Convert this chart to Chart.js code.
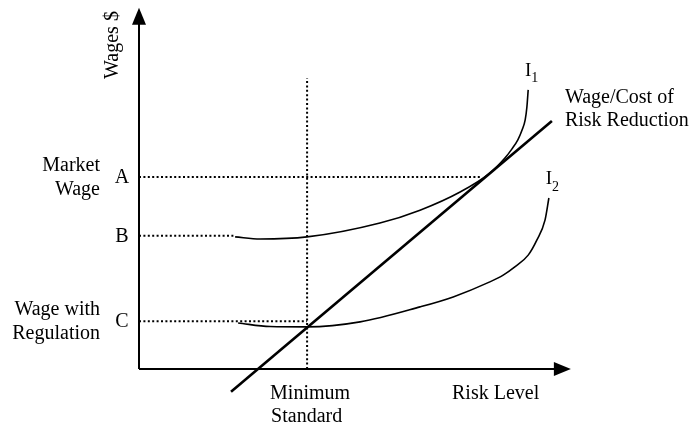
<!DOCTYPE html>
<html>
<head>
<meta charset="utf-8">
<script src="https://cdn.jsdelivr.net/npm/chart.js@4/dist/chart.umd.min.js"></script>
<style>
	body { margin: 0; background: #fff; }
	canvas { display: block; }
</style>
</head>
<body>
<canvas id="chartRisk" width="691" height="426"></canvas>
<script>
// wage levels on the vertical axis
var wageLevels = [53.8, 37.3, 13.4];
var wageTicks = ['A', 'B', 'C'];
var wageNames = [['Market', 'Wage'], [], ['Wage with', 'Regulation']];
var guideEnds = [79.1, 22.3, 39.0];

// risk level of the minimum standard
var minStandard = 39.0;
var minStandardTop = 81.5;

// indifference curve I1
var i1X = [22.3, 28.1, 39.0, 55.9, 65.2, 74.5, 81.4, 84.9, 86.5, 87.9, 88.9, 89.6, 90.0, 90.3];
var i1Y = [37.0, 36.4, 37.0, 40.9, 44.5, 49.6, 54.9, 59.1, 61.6, 64.2, 67.0, 69.8, 73.4, 78.2];

// indifference curve I2
var i2X = [23.0, 30.4, 39.0, 51.3, 65.2, 72.9, 81.4, 84.5, 87.2, 90.3, 92.3, 94.2, 95.1];
var i2Y = [12.9, 11.9, 11.8, 13.2, 17.4, 20.2, 24.4, 26.3, 28.6, 31.9, 36.1, 41.7, 47.9];

// wage / cost of risk reduction line
var costX = [21.35, 95.8];
var costY = [-6.4, 69.5];

var FONT = '"Liberation Serif", "Times New Roman", serif';

function pts(xs, ys) {
	return xs.map((x, i) => ({ x: x, y: ys[i] }));
}

function lineSet(data, width, dash, smooth) {
	return {
		data: data,
		showLine: true,
		pointRadius: 0,
		borderColor: '#000',
		borderWidth: width,
		borderDash: dash || [],
		cubicInterpolationMode: smooth ? 'monotone' : 'default',
		tension: 0,
		clip: false
	};
}

var datasets = [];

// axes
datasets.push(lineSet([{ x: 0, y: 0 }, { x: 99, y: 0 }], 2));
datasets.push(lineSet([{ x: 0, y: 0 }, { x: 0, y: 100 }], 2));

// dotted guides
wageLevels.forEach((w, i) => {
	datasets.push(lineSet([{ x: 0, y: w }, { x: guideEnds[i], y: w }], 2, [2, 2.4]));
});
datasets.push(lineSet([{ x: minStandard, y: 0 }, { x: minStandard, y: minStandardTop }], 2, [2, 2.4]));

// curves
datasets.push(lineSet(pts(i1X, i1Y), 1.6, null, true));
datasets.push(lineSet(pts(i2X, i2Y), 1.6, null, true));
datasets.push(lineSet(pts(costX, costY), 2.6));

var textPlugin = {
	id: 'textPlugin',
	afterDatasetsDraw(chart) {
		let ctx = chart.ctx;
		let sx = chart.scales.x;
		let sy = chart.scales.y;
		let x0 = sx.getPixelForValue(0);
		let y0 = sy.getPixelForValue(0);

		ctx.save();
		ctx.fillStyle = '#000';

		// arrow heads
		let yTip = sy.getPixelForValue(101.2);
		ctx.beginPath();
		ctx.moveTo(x0, yTip);
		ctx.lineTo(x0 - 7, yTip + 17);
		ctx.lineTo(x0 + 7, yTip + 17);
		ctx.closePath();
		ctx.fill();

		let xTip = sx.getPixelForValue(100.2);
		ctx.beginPath();
		ctx.moveTo(xTip, y0);
		ctx.lineTo(xTip - 17, y0 - 7);
		ctx.lineTo(xTip - 17, y0 + 7);
		ctx.closePath();
		ctx.fill();

		ctx.font = '20px ' + FONT;
		ctx.textBaseline = 'middle';

		// wage ticks and names
		wageLevels.forEach((w, i) => {
			let py = sy.getPixelForValue(w);
			ctx.textAlign = 'center';
			ctx.fillText(wageTicks[i], x0 - 17, py + 1);
			let names = wageNames[i];
			ctx.textAlign = 'right';
			names.forEach((n, k) => {
				ctx.fillText(n, x0 - 39, py + 1 + (k - (names.length - 1) / 2) * 24);
			});
		});

		// axis titles
		ctx.save();
		ctx.translate(x0 - 26, 45);
		ctx.rotate(-Math.PI / 2);
		ctx.textAlign = 'center';
		ctx.fillText('Wages $', 0, 0);
		ctx.restore();

		ctx.textAlign = 'left';
		ctx.fillText('Risk Level', 452, y0 + 25);

		let ms = sx.getPixelForValue(minStandard);
		ctx.fillText('Minimum', ms - 37, y0 + 25);
		ctx.fillText('Standard', ms - 36, y0 + 48);

		// line label
		let cx = sx.getPixelForValue(costX[1]);
		let cy = sy.getPixelForValue(costY[1]);
		ctx.fillText('Wage/Cost of', cx + 13, cy - 23);
		ctx.fillText('Risk Reduction', cx + 13, cy);

		// curve labels
		[[i1X, i1Y, '1'], [i2X, i2Y, '2']].forEach(([xs, ys, sub]) => {
			let px = sx.getPixelForValue(xs[xs.length - 1]);
			let py = sy.getPixelForValue(ys[ys.length - 1]);
			ctx.font = '19px ' + FONT;
			ctx.textAlign = 'center';
			ctx.fillText('I', px, py - 19);
			ctx.font = '14px ' + FONT;
			ctx.textAlign = 'left';
			ctx.fillText(sub, px + 3, py - 11);
		});

		ctx.restore();
	}
};

new Chart(document.getElementById('chartRisk').getContext('2d'), {
	type: 'scatter',
	data: { datasets: datasets },
	options: {
		responsive: false,
		animation: false,
		layout: {
			padding: { left: 139, right: 121, top: 12, bottom: 57 }
		},
		plugins: {
			legend: { display: false },
			tooltip: { enabled: false }
		},
		scales: {
			x: { display: false, min: 0, max: 100 },
			y: { display: false, min: 0, max: 100 }
		}
	},
	plugins: [textPlugin]
});
</script>
</body>
</html>
